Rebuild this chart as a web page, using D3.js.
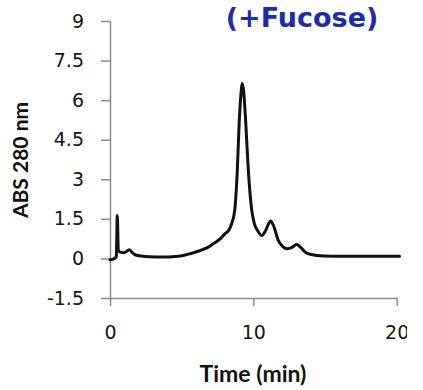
<!DOCTYPE html>
<html>
<head>
<meta charset="utf-8">
<script src="https://cdn.jsdelivr.net/npm/d3@7"></script>
<style>
  html, body { margin: 0; padding: 0; background: #fff; }
  .axis path, .axis line { stroke: #8a8a8a; stroke-width: 1.5; }
  .axis text { font-family: "DejaVu Sans", sans-serif; font-size: 19px; fill: #151515; }
</style>
</head>
<body>
<div id="chart"></div>
<script>
// chromatogram trace
const times = [0, 0.3, 0.44, 0.51, 0.58, 0.7, 1.0, 1.35, 1.63, 2.0, 2.8, 3.5, 3.95, 4.5, 4.9, 5.6, 6.3, 6.86, 7.33, 7.7, 8.02, 8.3, 8.49, 8.7, 8.88, 9.02, 9.13, 9.23, 9.33, 9.46, 9.65, 9.89, 10.07, 10.3, 10.58, 10.85, 11.05, 11.2, 11.4, 11.74, 12.05, 12.37, 12.7, 13.02, 13.3, 13.72, 14.42, 15.5, 17, 18.5, 20.2];
const absorb = [-0.05, 0.0, 0.06, 1.63, 0.3, 0.24, 0.22, 0.33, 0.18, 0.1, 0.06, 0.05, 0.05, 0.07, 0.09, 0.18, 0.3, 0.43, 0.6, 0.75, 0.94, 1.08, 1.32, 1.82, 3.34, 5.24, 6.2, 6.63, 6.3, 5.24, 3.34, 1.82, 1.32, 1.05, 0.87, 1.05, 1.3, 1.42, 1.25, 0.68, 0.45, 0.37, 0.42, 0.53, 0.42, 0.2, 0.11, 0.08, 0.08, 0.08, 0.08];
const yTicks = [-1.5, 0, 1.5, 3, 4.5, 6, 7.5, 9];
const xTicks = [0, 10, 20];
const title = "(+Fucose)";
const xTitle = "Time (min)";
const yTitle = "ABS 280 nm";

// the reference is cropped just past the "20" label, so the svg is too
const W = 407, H = 390;
const M = { top: 21, right: 10.3, bottom: 92, left: 110 };

const svg = d3.select("#chart").append("svg").attr("width", W).attr("height", H);

const x = d3.scaleLinear().domain([0, 20]).range([M.left, W - M.right]);
const y = d3.scaleLinear().domain([-1.5, 9]).range([H - M.bottom, M.top]);

svg.append("g").attr("class", "axis y").attr("transform", `translate(${M.left},0)`)
  .call(d3.axisLeft(y).tickValues(yTicks).tickSize(9).tickSizeOuter(0).tickPadding(17)
    .tickFormat((d) => String(d)));

svg.append("g").attr("class", "axis x").attr("transform", `translate(0,${H - M.bottom})`)
  .call(d3.axisBottom(x).tickValues(xTicks).tickSize(8).tickSizeOuter(0).tickPadding(20)
    .tickFormat((d) => String(d)));

const pts = times.map((t, i) => ({ t, v: absorb[i] }));
svg.append("path").datum(pts)
  .attr("fill", "none").attr("stroke", "#111").attr("stroke-width", 3)
  .attr("stroke-linejoin", "round").attr("stroke-linecap", "round")
  .attr("d", d3.line().x((d) => x(d.t)).y((d) => y(d.v)).curve(d3.curveMonotoneX));

svg.append("text").attr("x", 302).attr("y", 27).attr("text-anchor", "middle")
  .style("font-family", "DejaVu Sans, sans-serif").style("font-weight", 700).style("font-size", "27px")
  .attr("fill", "#1e2ca8").text(title);

svg.append("text").attr("x", 253).attr("y", 382).attr("text-anchor", "middle")
  .style("font-family", "Lato, sans-serif").style("font-weight", 700).style("font-size", "23px")
  .attr("fill", "#111").text(xTitle);

svg.append("text").attr("transform", "translate(28,160) rotate(-90)").attr("text-anchor", "middle")
  .style("font-family", "Lato, sans-serif").style("font-weight", 700).style("font-size", "21px")
  .attr("fill", "#111").text(yTitle);
</script>
</body>
</html>
